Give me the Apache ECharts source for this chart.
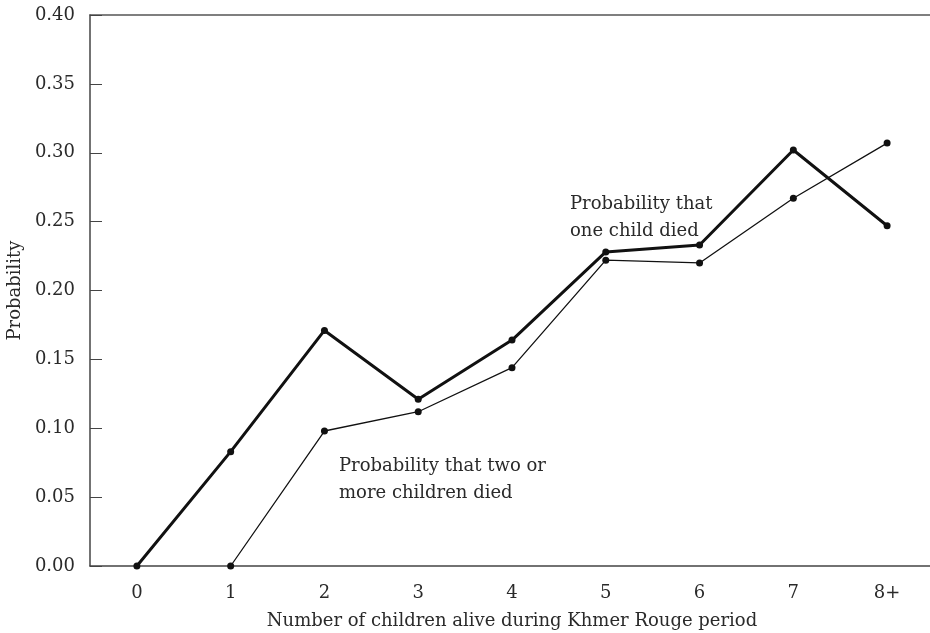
<!DOCTYPE html>
<html>
<head>
<meta charset="utf-8">
<script src="https://cdn.jsdelivr.net/npm/echarts@6/dist/echarts.min.js"></script>
<style>
  html, body { margin: 0; padding: 0; background: #fff; }
  #chart { width: 930px; height: 633px; }
</style>
</head>
<body>
<div id="chart"></div>
<script>
// categories on the x axis
const categories = ['0', '1', '2', '3', '4', '5', '6', '7', '8+'];
// probability that one child died (thick line)
const oneChild = [0.000, 0.083, 0.171, 0.121, 0.164, 0.228, 0.233, 0.302, 0.247];
// probability that two or more children died (thin line, starts at 1)
const twoOrMore = [null, 0.000, 0.098, 0.112, 0.144, 0.222, 0.220, 0.267, 0.307];

const font = 'DejaVu Serif';
const textColor = '#2a2a2a';
const fs = 18;

const chart = echarts.init(document.getElementById('chart'));

const option = {
    backgroundColor: '#fff',
    animation: false,
    grid: {
        left: 90,
        right: -4,
        top: 15,
        bottom: 67,
        show: false,
        containLabel: false,
        outerBoundsMode: 'none'
    },
    xAxis: [
        {
            type: 'category',
            data: categories,
            name: 'Number of children alive during Khmer Rouge period',
            nameLocation: 'middle',
            nameGap: 46,
            nameTextStyle: { fontFamily: font, fontSize: fs, color: textColor },
            axisLine: { lineStyle: { color: '#444', width: 1.5 } },
            axisTick: { inside: true, alignWithLabel: true, length: 10, lineStyle: { color: '#444' } },
            axisLabel: { fontFamily: font, fontSize: fs, color: textColor, margin: 18 },
            splitLine: { show: false }
        },
        {
            // top frame line only
            type: 'category',
            data: categories,
            position: 'top',
            axisLine: { lineStyle: { color: '#555', width: 1.5 } },
            axisTick: { show: false },
            axisLabel: { show: false },
            splitLine: { show: false }
        }
    ],
    yAxis: {
        type: 'value',
        min: 0,
        max: 0.4,
        interval: 0.05,
        name: 'Probability',
        nameLocation: 'middle',
        nameGap: 63,
        nameTextStyle: { fontFamily: font, fontSize: fs, color: textColor },
        axisLine: { show: true, lineStyle: { color: '#444', width: 1.5 } },
        axisTick: { show: true, inside: true, length: 12, lineStyle: { color: '#444' } },
        axisLabel: {
            fontFamily: font, fontSize: fs, color: textColor, margin: 15,
            formatter: v => v.toFixed(2)
        },
        splitLine: { show: false }
    },
    series: [
        {
            name: 'one child',
            type: 'line',
            data: oneChild,
            symbol: 'circle',
            symbolSize: 7,
            itemStyle: { color: '#111' },
            lineStyle: { color: '#111', width: 3 },
            z: 3
        },
        {
            name: 'two or more',
            type: 'line',
            data: twoOrMore,
            symbol: 'circle',
            symbolSize: 7,
            itemStyle: { color: '#111' },
            lineStyle: { color: '#111', width: 1.3 },
            z: 2
        }
    ],
    // annotations next to the lines
    graphic: [
        {
            type: 'text',
            left: 570,
            top: 191,
            style: {
                text: 'Probability that\none child died',
                font: fs + 'px "DejaVu Serif"',
                fill: textColor,
                lineHeight: 27
            }
        },
        {
            type: 'text',
            left: 339,
            top: 453,
            style: {
                text: 'Probability that two or\nmore children died',
                font: fs + 'px "DejaVu Serif"',
                fill: textColor,
                lineHeight: 27
            }
        }
    ]
};

chart.setOption(option);
</script>
</body>
</html>
